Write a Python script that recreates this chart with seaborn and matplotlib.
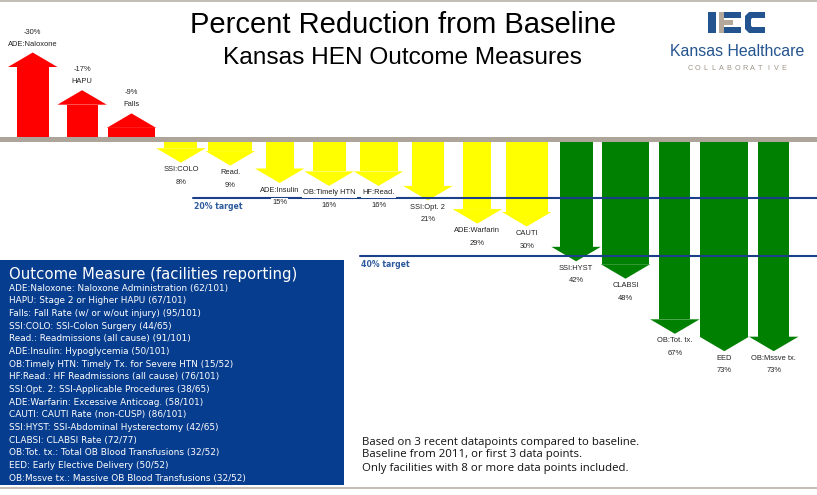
import numpy as np
import pandas as pd
import matplotlib
matplotlib.use("Agg")
import matplotlib.pyplot as plt
from matplotlib.patches import Rectangle, Polygon
import seaborn as sns

# ---- data -------------------------------------------------------------
measures = ["ADE:Naloxone", "HAPU", "Falls", "SSI:COLO", "Read.", "ADE:Insulin",
            "OB:Timely HTN", "HF:Read.", "SSI:Opt. 2", "ADE:Warfarin", "CAUTI",
            "SSI:HYST", "CLABSI", "OB:Tot. tx.", "EED", "OB:Mssve tx."]
reduction_pct = [-30, -17, -9, 8, 9, 15, 16, 16, 21, 29, 30, 42, 48, 67, 73, 73]
descriptions = ["Naloxone Administration", "Stage 2 or Higher HAPU",
                "Fall Rate (w/ or w/out injury)", "SSI-Colon Surgery",
                "Readmissions (all cause)", "Hypoglycemia",
                "Timely Tx. for Severe HTN", "HF Readmissions (all cause)",
                "SSI-Applicable Procedures", "Excessive Anticoag.",
                "CAUTI Rate (non-CUSP)", "SSI-Abdominal Hysterectomy",
                "CLABSI Rate", "Total OB Blood Transfusions",
                "Early Elective Delivery", "Massive OB Blood Transfusions"]
facilities_reporting = [62, 67, 95, 44, 91, 50, 15, 76, 38, 58, 86, 42, 72, 32, 50, 32]
facilities_total = [101, 101, 101, 65, 101, 101, 52, 101, 65, 101, 101, 65, 77, 52, 52, 52]
targets = [20, 40]
target_labels = ["20% target", "40% target"]
title = "Percent Reduction from Baseline"
subtitle = "Kansas HEN Outcome Measures"
legend_title = "Outcome Measure (facilities reporting)"
notes = ["Based on 3 recent datapoints compared to baseline.",
         "Baseline from 2011, or first 3 data points.",
         "Only facilities with 8 or more data points included."]

# ---- layout / style ---------------------------------------------------
W, H = 817, 495
ZERO_PX, PX_PER_PCT = 139.5, 2.9
SLOT_LEFT, SLOT_W = 8.0, 49.4
HEAD_LEN = 5.0                      # arrow head length in percent units
shaft_px = [32, 31, 47, 33, 44, 28, 33, 38, 32, 28, 42, 33, 47, 31, 48, 31]
target_start_px = [193, 360]
RED, YELLOW, GREEN = "#FF0000", "#FFFF00", "#008000"
LINE_BLUE = "#1C3F8A"
BOX_BLUE = "#073D8E"
TAN = "#ADA59A"
LOGO_BLUE = "#24548F"
LOGO_TAN = "#B3A89A"


def arrow_colour(v):
    if v < 0:
        return RED
    return GREEN if v >= targets[1] else YELLOW


sns.set_theme(style="white")
plt.rcParams["font.family"] = ["DejaVu Sans"]

fig = plt.figure(figsize=(W / 100, H / 100), dpi=100)
fig.patch.set_facecolor("white")

# pixel-space layer for boxes, titles and logo
deco = fig.add_axes([0, 0, 1, 1], zorder=1)
deco.set_xlim(0, W)
deco.set_ylim(H, 0)
deco.axis("off")
deco.patch.set_alpha(0)

# data layer: x = measure index, y = percent reduction (down = improvement)
ax = fig.add_axes([0, 0, 1, 1], zorder=2)
ax.patch.set_alpha(0)

n = len(measures)
pos = np.arange(n)
vals = np.array(reduction_pct, dtype=float)
colours = [arrow_colour(v) for v in reduction_pct]
shaft_end = vals - np.sign(vals) * HEAD_LEN
df = pd.DataFrame({"pos": pos, "shaft_end": shaft_end, "measure": measures})

sns.barplot(data=df, x="pos", y="shaft_end", hue="measure", hue_order=measures,
            palette=dict(zip(measures, colours)), native_scale=True, dodge=False,
            errorbar=None, legend=False, linewidth=0, saturation=1, orient="x",
            ax=ax)

# per-arrow shaft widths
for cont, wpx in zip(ax.containers, shaft_px):
    bar = cont.patches[0]
    c = bar.get_x() + bar.get_width() / 2
    w = wpx / SLOT_W
    bar.set_x(c - w / 2)
    bar.set_width(w)
    bar.set_zorder(1)

# arrow heads
for i, (v, base, col) in enumerate(zip(vals, shaft_end, colours)):
    ax.fill([i - 0.5, i + 0.5, i], [base, base, v], color=col, lw=0, zorder=1)

# baseline band
half = 2.5 / PX_PER_PCT
ax.axhspan(-half, half, color=TAN, lw=0, zorder=3)

# targets
for t, lab, xs in zip(targets, target_labels, target_start_px):
    ax.axhline(t, xmin=xs / W, xmax=1, color=LINE_BLUE, lw=1.5, zorder=4)
    ax.text((xs - SLOT_LEFT) / SLOT_W - 0.5 + 0.02, t + 9 / PX_PER_PCT, lab,
            ha="left", va="center", fontsize=5.6, fontweight="bold",
            color="#2E5B9E", zorder=5)

# arrow labels
lab_kw = dict(ha="center", va="center", fontsize=5.4, color="#222222",
              family=["Liberation Sans", "DejaVu Sans"], zorder=6,
              bbox=dict(boxstyle="square,pad=0.15", fc="white", ec="none"))
for i, (m, v) in enumerate(zip(measures, reduction_pct)):
    if v < 0:
        ax.text(i, v - 8.5 / PX_PER_PCT, m, **lab_kw)
        ax.text(i, v - 20.5 / PX_PER_PCT, f"{v}%", **lab_kw)
    else:
        ax.text(i, v + 7 / PX_PER_PCT, m, **lab_kw)
        ax.text(i, v + 19.5 / PX_PER_PCT, f"{v}%", **lab_kw)

ax.set_xlim((0 - SLOT_LEFT) / SLOT_W - 0.5, (W - SLOT_LEFT) / SLOT_W - 0.5)
ax.set_ylim((H - ZERO_PX) / PX_PER_PCT, -ZERO_PX / PX_PER_PCT)
ax.axis("off")

# frame rules
deco.plot([0, W], [1, 1], color="#B8B0A5", lw=1.2)
deco.plot([0, W], [488, 488], color="#B8B0A5", lw=1.2)

# titles
deco.text(403, 33, title, ha="center", va="baseline", fontsize=21,
          family=["Liberation Sans", "DejaVu Sans"], color="black")
deco.text(402, 64, subtitle, ha="center", va="baseline", fontsize=17.6,
          family=["Liberation Sans", "DejaVu Sans"], color="black")

# legend box
deco.add_patch(Rectangle((0, 260), 344, 225, color=BOX_BLUE, lw=0))
deco.text(9, 279, legend_title, ha="left", va="baseline", fontsize=10.7,
          color="white")
for k, (m, d, r, tot) in enumerate(zip(measures, descriptions,
                                       facilities_reporting, facilities_total)):
    deco.text(9, 288 + 12.67 * k, f"{m}: {d} ({r}/{tot})", ha="left",
              va="center", fontsize=6.4, color="white")

# notes
for k, line in enumerate(notes):
    deco.text(362, 442 + 13 * k, line, ha="left", va="center", fontsize=8.2,
              family=["Open Sans", "DejaVu Sans"], color="#111111")

# logo mark
deco.add_patch(Rectangle((708, 12), 8, 21, color=LOGO_BLUE, lw=0))
deco.add_patch(Rectangle((719, 12), 5, 21, color=LOGO_TAN, lw=0))
deco.add_patch(Rectangle((724, 20), 9, 5, color=LOGO_TAN, lw=0))
deco.add_patch(Polygon([(724, 12), (741, 12), (741, 18), (724, 18)],
                       color=LOGO_BLUE, lw=0))
deco.add_patch(Polygon([(724, 27), (741, 27), (741, 33), (724, 33)],
                       color=LOGO_BLUE, lw=0))
deco.add_patch(Polygon([(749, 12), (765, 12), (765, 18), (752, 18),
                        (751, 19.5), (751, 25.5), (752, 27), (765, 27),
                        (765, 33), (749, 33), (745, 29), (745, 16)],
                       color=LOGO_BLUE, lw=0))
deco.text(737, 52, "Kansas Healthcare", ha="center", va="center",
          fontsize=11.4, family=["Liberation Sans", "DejaVu Sans"],
          color=LOGO_BLUE)
word = "COLLABORATIVE"
for k, ch in enumerate(word):
    deco.text(690 + k * (94 / (len(word) - 1)), 69, ch, ha="center",
              va="center", fontsize=5.2, color="#9E9488",
              family=["Liberation Sans", "DejaVu Sans"])

fig.savefig("out.png", dpi=100)
